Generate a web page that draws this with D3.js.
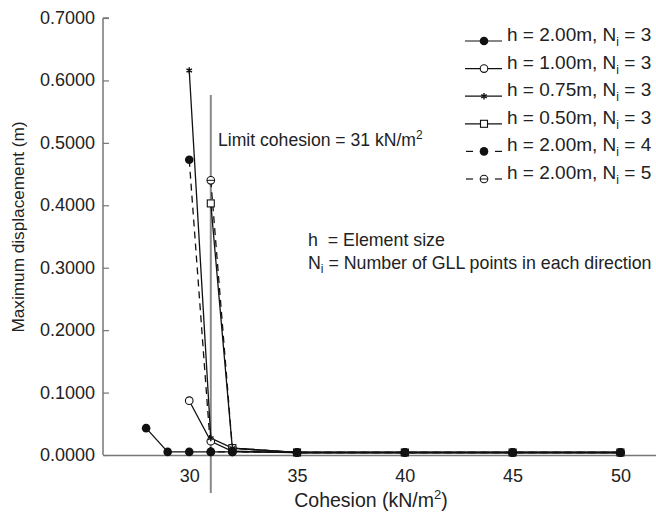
<!DOCTYPE html>
<html>
<head>
<meta charset="utf-8">
<script src="https://cdn.jsdelivr.net/npm/d3@7"></script>
<style>
  html, body { margin: 0; padding: 0; background: #fff; }
  svg { display: block; font-family: "Liberation Sans", Arial, sans-serif; }
</style>
</head>
<body>
<svg id="chart" width="656" height="516"></svg>
<script>
// Cohesion values (kN/m^2) and maximum displacement (m) for each run
const cohesionH200N3 = [28, 29, 30, 31, 32, 35, 40, 45, 50];
const dispH200N3     = [0.043, 0.005, 0.005, 0.005, 0.005, 0.004, 0.004, 0.004, 0.004];

const cohesionH100N3 = [30, 31, 32, 35, 40, 45, 50];
const dispH100N3     = [0.087, 0.022, 0.006, 0.004, 0.004, 0.004, 0.004];

const cohesionH075N3 = [30, 31, 32, 35, 40, 45, 50];
const dispH075N3     = [0.616, 0.027, 0.011, 0.004, 0.004, 0.004, 0.004];

const cohesionH050N3 = [31, 32, 35, 40, 45, 50];
const dispH050N3     = [0.403, 0.011, 0.004, 0.004, 0.004, 0.004];

const cohesionH200N4 = [30, 31, 32, 35, 40, 45, 50];
const dispH200N4     = [0.473, 0.005, 0.005, 0.004, 0.004, 0.004, 0.004];

const cohesionH200N5 = [31, 32, 35, 40, 45, 50];
const dispH200N5     = [0.440, 0.011, 0.004, 0.004, 0.004, 0.004];

const seriesNames = ["h = 2.00m, N", "h = 1.00m, N", "h = 0.75m, N", "h = 0.50m, N", "h = 2.00m, N", "h = 2.00m, N"];
const seriesNi    = [3, 3, 3, 3, 4, 5];

const xTicks = [30, 35, 40, 45, 50];
const yTicks = [0, 0.1, 0.2, 0.3, 0.4, 0.5, 0.6, 0.7];
const limitCohesion = 31;

const series = [
  { x: cohesionH200N3, y: dispH200N3, marker: "filled",  dashed: false },
  { x: cohesionH100N3, y: dispH100N3, marker: "open",    dashed: false },
  { x: cohesionH075N3, y: dispH075N3, marker: "star",    dashed: false },
  { x: cohesionH050N3, y: dispH050N3, marker: "square",  dashed: false },
  { x: cohesionH200N4, y: dispH200N4, marker: "filled",  dashed: true  },
  { x: cohesionH200N5, y: dispH200N5, marker: "theta",   dashed: true  }
].map((s, i) => ({ ...s, name: seriesNames[i], ni: seriesNi[i] }));

const svg = d3.select("#chart");
const x = d3.scaleLinear().domain([26, 51.65]).range([103, 656]);
const y = d3.scaleLinear().domain([0, 0.7]).range([455, 18]);

// Axes
const yAxis = svg.append("g").attr("transform", `translate(${x(26)},0)`)
  .call(d3.axisRight(y).tickValues(yTicks).tickSize(6).tickFormat(""));
yAxis.select(".domain").attr("stroke", "#777").attr("stroke-width", 1.5).attr("d", `M0,${y(0.7)}H6M0,${y(0.7)}V${y(0)}`);
yAxis.selectAll(".tick line").attr("stroke", "#777").attr("stroke-width", 1.2);

svg.append("g").selectAll("text").data(yTicks).join("text")
  .attr("x", 95).attr("y", d => y(d) + 6)
  .attr("text-anchor", "end").attr("font-size", 18).attr("fill", "#222")
  .text(d => d3.format(".4f")(d));

const xAxis = svg.append("g").attr("transform", `translate(0,${y(0)})`)
  .call(d3.axisBottom(x).tickValues(xTicks).tickSize(0).tickPadding(14).tickFormat(d3.format("d")));
xAxis.select(".domain").attr("stroke", "#777").attr("stroke-width", 1.5);
xAxis.selectAll(".tick text").attr("font-size", 18).attr("fill", "#222")
  .attr("font-family", "'Liberation Sans', Arial, sans-serif");

// Axis titles
svg.append("text").attr("transform", "translate(24,227) rotate(-90)")
  .attr("text-anchor", "middle").attr("font-size", 17.2).attr("fill", "#222")
  .text("Maximum displacement (m)");

const xt = svg.append("text").attr("x", 371).attr("y", 507)
  .attr("text-anchor", "middle").attr("font-size", 19.5).attr("fill", "#222");
xt.append("tspan").text("Cohesion (kN/m");
xt.append("tspan").attr("font-size", 13).attr("dy", -8).text("2");
xt.append("tspan").attr("dy", 8).text(")");

// Limit cohesion marker line
svg.append("line")
  .attr("x1", x(limitCohesion)).attr("x2", x(limitCohesion))
  .attr("y1", 95).attr("y2", 493)
  .attr("stroke", "#888").attr("stroke-width", 2);

const lt = svg.append("text").attr("x", 218).attr("y", 146)
  .attr("font-size", 17.6).attr("fill", "#222");
lt.append("tspan").text(`Limit cohesion = ${limitCohesion} kN/m`);
lt.append("tspan").attr("font-size", 12).attr("dy", -7).text("2");

// Notes
svg.append("text").attr("x", 308).attr("y", 246).attr("font-size", 17.8).attr("fill", "#222")
  .attr("xml:space", "preserve").text("h  = Element size");
const nt = svg.append("text").attr("x", 308).attr("y", 269).attr("font-size", 17.8).attr("fill", "#222");
nt.append("tspan").text("N");
nt.append("tspan").attr("font-size", 12).attr("dy", 4).text("i");
nt.append("tspan").attr("dy", -4).text(" = Number of GLL points in each direction");

// Marker drawing
function drawMarker(g, type, cx, cy) {
  if (type === "filled") {
    g.append("circle").attr("cx", cx).attr("cy", cy).attr("r", 4.3).attr("fill", "#111");
  } else if (type === "open") {
    g.append("circle").attr("cx", cx).attr("cy", cy).attr("r", 3.8)
      .attr("fill", "#fff").attr("stroke", "#111").attr("stroke-width", 1.1);
  } else if (type === "theta") {
    g.append("circle").attr("cx", cx).attr("cy", cy).attr("r", 3.8)
      .attr("fill", "#fff").attr("stroke", "#111").attr("stroke-width", 1.1);
    g.append("line").attr("x1", cx - 3.8).attr("x2", cx + 3.8).attr("y1", cy).attr("y2", cy)
      .attr("stroke", "#111").attr("stroke-width", 1);
  } else if (type === "square") {
    g.append("rect").attr("x", cx - 3.5).attr("y", cy - 3.5).attr("width", 7).attr("height", 7)
      .attr("fill", "#fff").attr("stroke", "#111").attr("stroke-width", 1.1);
  } else if (type === "star") {
    g.append("path").attr("d", d3.symbol(d3.symbolAsterisk, 28)())
      .attr("transform", `translate(${cx},${cy})`)
      .attr("fill", "none").attr("stroke", "#111").attr("stroke-width", 1.4);
  }
}

const line = d3.line().x(d => x(d[0])).y(d => y(d[1]));
const plot = svg.append("g");

// Draw lines first, then markers on top
series.forEach(s => {
  const pts = s.x.map((v, i) => [v, s.y[i]]);
  plot.append("path").datum(pts).attr("d", line)
    .attr("fill", "none").attr("stroke", "#111").attr("stroke-width", 1.3)
    .attr("stroke-dasharray", s.dashed ? "7,5" : null);
});
[5, 3, 1, 2, 4, 0].forEach(k => {
  const s = series[k];
  s.x.forEach((v, i) => drawMarker(plot, s.marker, x(v), y(s.y[i])));
});

// Legend
const legend = svg.append("g");
series.forEach((s, i) => {
  const cy = 41 + i * 27.6;
  const g = legend.append("g");
  const segs = s.dashed ? [[466, 473], [495, 502]] : [[465, 502]];
  segs.forEach(([a, b]) => g.append("line").attr("x1", a).attr("x2", b).attr("y1", cy).attr("y2", cy)
    .attr("stroke", "#111").attr("stroke-width", 1.2));
  drawMarker(g, s.marker, 484, cy);
  const t = g.append("text").attr("x", 507).attr("y", cy).attr("font-size", 19).attr("fill", "#222");
  t.append("tspan").text(s.name);
  t.append("tspan").attr("font-size", 12).attr("dy", 5).text("i");
  t.append("tspan").attr("dy", -5).text(` = ${s.ni}`);
});
</script>
</body>
</html>
